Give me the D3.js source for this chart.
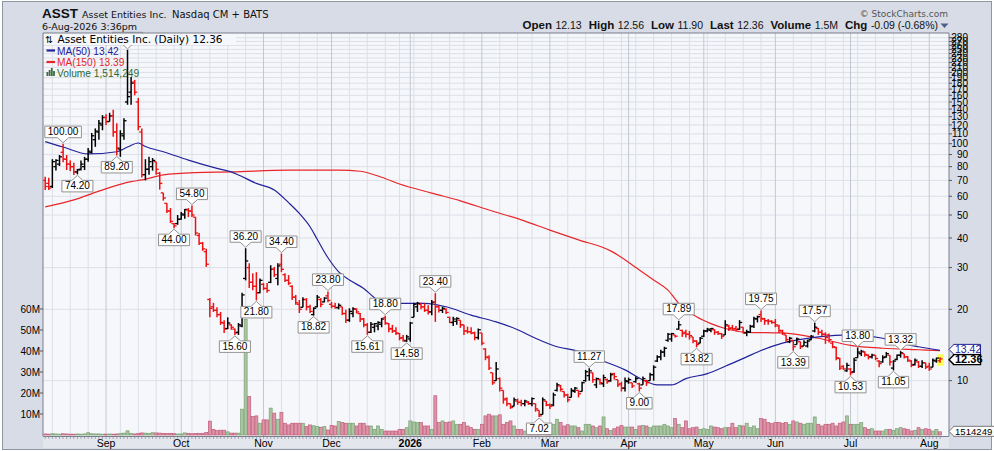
<!DOCTYPE html>
<html><head><meta charset="utf-8">
<script src="https://cdn.jsdelivr.net/npm/d3@7"></script>
<style>body{margin:0;background:#fff;}svg{display:block;}</style>
</head><body>
<svg id="c" width="994" height="451"></svg>
<script>
// ---------- DATA ----------
const startDate = "2025-08-07", endDate = "2026-08-06";
const holidays = ["2025-09-01","2025-11-27","2025-12-25","2026-01-01","2026-01-19","2026-02-16","2026-04-03","2026-05-25","2026-06-19","2026-07-03"];

const open = [
70,68,66,80,82,92,86,82,80,76,
78,80,86,92,104,112,120,129,124,131,
112,95,108,150,165,182,150,112,74,78,
80,84,75,62,56,52,46,46,48,50,
52.5,52,49,41,38,35,22,20.5,19.8,19,
17.5,16.6,17.2,16.5,16,17,27,30,26,25,
23.5,25.5,24.5,26,29.5,27,31,28,26.5,25,
22.5,21,20.4,22,20.5,19,20.5,22,21.5,22.8,
21,20.6,20.3,20.5,19.2,18,19.2,20,19.2,18.2,
17.2,16,16.8,17,17.3,18.4,17.4,16.6,16.2,15.8,
15.2,14.7,15,18.5,20.5,21,20.5,19.8,19.5,21.5,
20.5,19.8,20,18.5,17.6,17.8,18,17.2,16.2,16.1,
15.9,15.2,15.9,13.6,12.5,10.8,10,10.2,9.1,8.4,
8,7.8,8.2,8.1,8,8.1,8,8,7.5,7.2,
8.2,7.9,7.9,9.1,9.5,9,8.7,8.5,9,9.1,
9,10,10.5,10.8,9.6,10.1,9.7,10.1,10,10.7,
10.1,9.7,9.3,9.9,9.8,9.9,9.7,9.6,10,10,
10.6,12.1,12.6,13.2,14.8,15,15.6,16.5,16.3,16,
15.7,15.3,14.7,14.4,15.4,16.2,16.3,16.4,16,15.8,
15.6,17,16.7,16.6,16.5,16.8,15.9,16,17,18.2,
19,18.2,17.9,17.8,17.6,17,16.2,15.6,14.6,14.8,
14.2,14.6,14,14,14.9,16.2,16.6,16,15.7,15.6,
14.4,13.8,12.4,11.5,11,11.2,10.9,12.5,13,13.2,
12.8,12.6,12.8,12.1,12,12.6,12.8,11.3,12.3,12.8,
13,12.6,12.1,11.7,12,11.5,11.9,11.5,11.4,12.1,
12.13];
const high = [
72.6,71.9,86,86,89.6,100,89.6,85,83,78.3,
85,88,96,111,116,126,132,133,135,139,
122,114,128,249,191,186,156,116,86,88,
87,84,76,62,56,53.5,46.3,50,51.5,53,
53.5,54.8,49,42,38.5,36,22.3,21.3,20.4,19.5,
18,18.5,17.3,16.6,17.5,23.5,36.2,31.3,28.4,28.7,
27,25.8,25.8,30.7,30.2,31.3,34.4,28.4,27.9,25.3,
23,21.9,22.5,22.3,20.9,20.4,23,22.3,22.5,23.8,
21.5,21.3,21.2,20.5,19.9,20.2,20.4,20.2,19.3,18.4,
17.5,17.7,17.5,17.8,18.4,18.8,17.5,17.2,16.8,15.9,
15.6,15.6,17.7,21.3,21.5,21.3,21.2,20.8,21.9,23.4,
20.8,20.5,20.2,18.6,18.6,18.5,18,17.2,16.9,16.8,
16.1,16.6,15.9,13.7,12.8,10.8,12,10.3,9.1,8.5,
8,8.5,8.4,8.3,8.3,8.2,8.5,8,7.5,8.5,
8.2,8,8.9,9.8,9.6,9,8.8,9.3,9.4,9.1,
9.9,11.1,11.27,10.8,10.3,10.2,10.6,10.2,10.8,10.8,
10.1,9.9,10.3,10.3,9.8,10.4,9.8,10.4,10.1,10.8,
11.6,12.8,13.5,13.9,15.9,15.9,15.6,17.89,16.4,16.4,
16.2,15.3,14.8,15.3,16.4,16.7,16.7,16.5,16.2,15.9,
18,17.2,17.2,17,18,16.8,16.4,17.2,18.6,18.8,
19.75,18.4,18.2,18,18.2,17.2,16.4,15.6,15.3,14.8,
15.2,14.6,14.8,14.9,15.6,17.57,16.7,16.4,16,15.8,
14.6,13.9,12.5,11.6,11.9,11.3,12.5,13.8,13.5,13.3,
12.9,13,12.8,12.2,12.8,13.2,12.8,12.2,12.9,13.32,
13,12.7,12.2,12.4,12.1,12.2,11.9,11.9,12.4,12.5,
12.56];
const low = [
63.8,63.8,65,77,80.5,83.5,77.4,76.6,73.8,74.2,
77,77.4,84,91,97,104,114,120,124,107,
89.2,88,104,146,146,160,114,72,70,74,
77,74,64,57.5,51,46.3,44,45.5,47.7,48.2,
49,49,41,37.4,35.3,30.2,18.5,19.5,18.5,17.2,
15.9,16.5,16.4,15.6,15.6,16.8,26.5,24.6,24.1,21.8,
23.4,24.1,23.5,25.8,27.4,25.3,28.7,26.1,25.3,21.9,
20.9,19.3,20.4,19.8,19.3,18.82,20.4,20.4,21.4,21.4,
20.2,20.1,20,18.9,17.5,17.7,18.5,19.2,17.7,16.8,
15.61,15.9,16,16.3,16.8,17.2,16,15.9,15.6,14.8,
14.6,14.58,14.6,18.5,19.5,20,19.5,19,18.9,17.7,
19.4,19.3,19.1,17.5,17,17.2,16.7,15.6,15.8,15.7,
14.8,14.9,14.1,12.2,11.1,9.6,10,9,8,7.8,
7.6,7.8,7.9,7.8,7.8,7.9,7.8,7.4,7.02,7.2,
7.8,7.6,7.8,9,9,8.5,8.1,8.5,8.9,8.5,
9,9.9,10,9.8,9.3,9.6,9.4,9.7,9.9,10.1,
9.4,9,9,9.7,9.3,9.8,9,9.6,9.5,10,
10,12,12.2,12.6,14.6,14.6,15.2,16.4,15.3,15.2,
14.9,14.4,13.82,14.4,15.3,16,16,15.6,15.6,15,
15.6,16.2,16.4,16.2,16.4,15.8,15.4,15.9,16.7,17.6,
17.7,17.2,17.2,17.4,16.8,15.9,15.6,14.6,14.4,13.39,
14.2,13.6,14,13.8,14.8,16,15.6,15.4,14.3,14.5,
13.7,12.2,11.1,11.1,10.9,10.53,10.8,12.5,12.7,12.6,
12.3,12.4,12.2,11.4,11.9,12.5,11.6,11.05,12.2,12.5,
12.4,12,11.4,11.6,11.3,11.3,11.2,11,11.4,11.9,
11.90];
const close = [
66,65,84,85,88,86,82,80,76,77.5,
82,86,93,108,113,122,129,124,131,112,
96,110,125,158,180,165,118,74,78,84,
85,78,68,59,52,47,45,48,50.5,52.8,
52,50,42,38,36,31,20.2,19.8,19,17.6,
16.5,17.5,16.8,15.9,17.2,23,32,26,25,23.5,
26.5,24.5,24,29.5,28,30.5,29.5,26.5,25.8,22.5,
21.3,20,22,20.5,19.6,20.2,22.5,21,22.3,21.8,
20.6,20.4,20.8,19.2,18,19.6,20.1,19.5,18.2,17.2,
16,17.3,17.4,17.6,18.2,17.5,16.5,16.2,15.9,15.1,
14.8,15.3,17.5,21,21.2,20.5,19.8,19.5,21.4,20.5,
19.8,20.2,19.4,17.6,18.2,18.3,17.2,16.2,16.1,15.9,
15.2,16.4,14.4,12.6,11.3,9.8,11.2,9.3,8.3,8,
7.7,8.3,8.1,8,8.2,8,8.4,7.6,7.1,8.3,
7.9,7.8,8.7,9.6,9.2,8.7,8.3,9.1,9.3,8.8,
9.8,10.9,11,10.1,10.2,9.8,10.3,9.9,10.6,10.4,
9.6,9.3,10,10.1,9.5,10.2,9.3,10.2,9.8,10.6,
11.4,12.6,13.2,13.7,15.7,15.8,15.4,17.2,15.8,15.7,
15.5,14.7,14.2,15.1,16.2,16.5,16.6,16,15.8,15.4,
17.2,16.6,16.5,16.4,17.6,15.9,16.1,16.9,18.3,18.6,
18.3,17.9,17.8,17.6,17.2,16.3,15.8,14.9,15.1,13.9,
15,13.9,14.5,14.7,15.4,16.8,16,15.7,15.2,14.9,
13.9,12.5,11.3,11.2,11.6,10.8,12.2,13.2,13.3,12.9,
12.6,12.8,12.4,11.8,12.5,13,12,12.1,12.8,13.1,
12.6,12.2,11.6,12.2,11.5,11.9,11.4,11.2,12.2,12.45,
12.36];
// volume in millions of shares
const volume = [
0.5,0.4,0.6,0.5,0.4,0.6,0.5,0.4,0.4,0.5,
0.4,0.5,1.1,0.6,0.5,0.5,0.4,0.4,0.5,0.4,
0.5,0.7,0.9,2.0,0.8,0.5,0.8,1.0,0.9,0.8,
1.1,1.0,0.9,0.8,0.7,0.8,0.7,0.5,0.5,1.0,
0.8,0.6,0.7,0.8,0.8,1.2,6.6,2.6,2.1,2.3,
2.3,1.5,0.9,0.9,0.9,12.3,55,18.3,8.8,9.1,
5.6,7.2,7.2,12.8,10.4,7.5,10.8,5.6,4.8,5.6,
5.6,5.6,5.6,4.0,4.8,4.4,4.0,3.7,4.0,2.4,
4.6,4.3,6.4,5.9,5.6,5.6,5.6,4.3,5.6,5.6,
4.3,4.3,2.7,4.3,2.7,1.9,1.9,1.9,1.9,2.7,
2.7,3.5,6.7,6.2,5.9,5.9,4.3,4.3,2.7,18.7,
5.9,6.7,5.9,6.2,6.7,5.1,5.1,5.9,4.3,3.5,
2.7,2.7,5.1,9.1,9.9,9.1,9.1,9.6,5.1,5.9,
6.7,4.3,2.7,2.7,1.9,1.9,2.2,2.7,2.7,1.9,
2.7,2.7,5.1,7.5,6.0,4.3,4.9,4.3,4.3,3.5,
1.9,5.1,5.1,4.3,3.5,4.3,8.6,3.0,2.2,3.0,
3.8,4.6,3.8,3.8,3.8,2.7,4.3,4.6,4.3,3.5,
4.3,4.3,4.3,5.1,4.3,3.5,7.8,5.1,3.5,6.7,
3.0,3.5,3.8,2.7,3.0,2.7,4.3,3.8,3.5,3.0,
3.5,3.5,5.6,3.5,4.6,4.3,5.6,3.5,4.3,3.0,
7.8,7.5,5.9,5.4,5.9,5.9,5.6,5.9,5.1,6.7,
6.2,5.6,5.1,5.6,5.6,8.6,5.1,4.3,5.1,5.1,
5.6,4.3,5.6,6.2,9.1,5.1,5.1,5.1,5.9,3.5,
2.7,3.0,1.9,1.9,1.9,2.7,2.7,2.2,3.0,3.5,
3.0,2.7,1.9,2.2,3.5,2.7,3.0,2.7,1.9,2.7,
1.514249];

// moving averages (bar index, value)
const ma50Idx = [0,5,12,20,23,26,28,33,40,48,52,54,59,64,68,71,74,76,79,82,85,89,93,98,106,112,119,126,132,137,143,149,154,162,167,171,175,179,185,190,196,200,206,216,225,234,239,244,250];
const ma50Val = [102,96.8,90.5,92.5,96.8,100.7,97.3,92.5,85.3,78.7,76,73.8,68,63.8,56.4,50.8,44.6,39.5,33,28.8,26.6,24.5,21.9,21.2,21.2,20.5,18.9,17.7,16.4,15.1,13.9,13.3,12.4,11.1,10.07,9.6,9.6,10.2,10.7,11.5,12.6,13.4,14.4,15.3,15.6,15.1,14.4,13.9,13.42];
const ma150Idx = [0,8,15,24,27,33,42,52,68,82,88,94,99,108,116,124,133,141,149,158,166,170,174,177,182,186,190,196,206,216,225,234,244,250];
const ma150Val = [54.1,57.9,63.1,69.2,70.3,73.8,75.5,76,77.4,77.4,76.5,72.2,67.6,61.9,57.4,52.5,47.7,43.2,39.3,35.3,29.3,26.6,24.1,21.2,18.6,17.4,16.6,16.0,15.9,15.1,14.1,13.7,13.5,13.39];

const hiLabelIdx = [5,41,56,66,79,95,109,152,177,200,215,227,239];
const loLabelIdx = [9,20,36,53,59,75,90,101,138,166,182,209,225,237];
const peakIdx = 23;

const priceTicks = d3.range(10, 290, 10);
const volTicks = [10,20,30,40,50,60];

// quote header as printed
const quoteChange = -0.09, quoteChangePct = -0.68;

// ---------- SETUP ----------
const svg = d3.select('#c');
const P = {l:43, r:949, t:33, b:436};
const fmt = d3.utcFormat('%Y-%m-%d');
const parse = d3.utcParse('%Y-%m-%d');
const days = d3.utcDay.range(parse(startDate), d3.utcDay.offset(parse(endDate),1))
  .filter(d => { const w=d.getUTCDay(); return w!==0 && w!==6 && !holidays.includes(fmt(d)); });
const n = Math.min(days.length, close.length);

const x = d3.scaleLinear().domain([0, 250]).range([45.2, 940]);
const y = d3.scaleLog().domain([5.84, 293.2]).range([P.b, P.t]);
const yv = d3.scaleLinear().domain([0, 60]).range([435, 309]);

const FRAME = '#d8dce6', PLOTBG = '#f6f7fb';
const SANS = 'Liberation Sans, Arial, sans-serif';
const VERD = 'DejaVu Sans, Verdana, sans-serif';

svg.append('rect').attr('width',994).attr('height',451).attr('fill','#fff');
svg.append('rect').attr('x',2.5).attr('y',1.5).attr('width',989).attr('height',448)
  .attr('fill',FRAME).attr('stroke','#8e95a5');
svg.append('rect').attr('x',P.l).attr('y',P.b).attr('width',P.r-P.l).attr('height',12).attr('fill','#e3e6ed');
svg.append('rect').attr('x',P.l).attr('y',P.t).attr('width',P.r-P.l).attr('height',P.b-P.t).attr('fill',PLOTBG);

svg.append('defs').append('clipPath').attr('id','clip').append('rect')
  .attr('x',P.l).attr('y',P.t).attr('width',P.r-P.l).attr('height',P.b-P.t);

// grid
const grid = svg.append('g');
priceTicks.forEach(t => {
  grid.append('line').attr('x1',P.l).attr('x2',P.r).attr('y1',y(t)).attr('y2',y(t))
    .attr('stroke','#dcdfe7').attr('stroke-width',1);
});
const monthStarts = [], weekStarts = [];
for (let i=1;i<n;i++){
  const d=days[i], p=days[i-1];
  if (d.getUTCMonth()!==p.getUTCMonth()) monthStarts.push(i);
  else if (d.getUTCDay() < p.getUTCDay()) weekStarts.push(i);
}
weekStarts.forEach(i => grid.append('line').attr('x1',x(i)).attr('x2',x(i)).attr('y1',P.t).attr('y2',P.b)
  .attr('stroke','#dcdfe7'));
monthStarts.forEach(i => grid.append('line').attr('x1',x(i)).attr('x2',x(i)).attr('y1',P.t).attr('y2',P.b)
  .attr('stroke','#c3c7d1'));

const up = i => i===0 ? close[0]>=open[0] : close[i]>=close[i-1];
const main = svg.append('g').attr('clip-path','url(#clip)');

// volume
main.selectAll('rect.v').data(d3.range(n)).join('rect')
  .attr('x',i=>x(i)-1.5).attr('width',3)
  .attr('y',i=>yv(volume[i])).attr('height',i=>435-yv(volume[i]))
  .attr('fill',i=>up(i)?'#a9c5a1':'#dd94a8')
  .attr('stroke',i=>up(i)?'#7ba274':'#c25c7a').attr('stroke-width',0.7);

// moving averages
const line = d3.line().curve(d3.curveMonotoneX);
main.append('path').attr('d',line(ma150Idx.map((i,k)=>[x(i),y(ma150Val[k])])))
  .attr('fill','none').attr('stroke','#e8262a').attr('stroke-width',1.2);
main.append('path').attr('d',line(ma50Idx.map((i,k)=>[x(i),y(ma50Val[k])])))
  .attr('fill','none').attr('stroke','#22229a').attr('stroke-width',1.2);

// last bar highlight
main.append('rect').attr('x',x(n-1)-3).attr('y',y(high[n-1])-3).attr('width',7)
  .attr('height',y(low[n-1])-y(high[n-1])+6).attr('fill','#ffff55');

// price bars
const bars = main.append('g');
for (let i=0;i<n;i++){
  const c = up(i)?'#000':'#ee1111', cx=x(i);
  bars.append('line').attr('x1',cx).attr('x2',cx).attr('y1',y(high[i])).attr('y2',y(low[i]))
    .attr('stroke',c).attr('stroke-width',1.5);
  bars.append('line').attr('x1',cx-2.6).attr('x2',cx).attr('y1',y(open[i])).attr('y2',y(open[i]))
    .attr('stroke',c).attr('stroke-width',1.3);
  bars.append('line').attr('x1',cx).attr('x2',cx+2.6).attr('y1',y(close[i])).attr('y2',y(close[i]))
    .attr('stroke',c).attr('stroke-width',1.3);
}

// high / low labels
const lab = svg.append('g');
function tag(i, isHigh, showText){
  const cx=x(i), val=isHigh?high[i]:low[i];
  const tip = isHigh ? y(val)-1 : y(val)+1;
  const g = lab.append('g');
  let w = 30;
  const t = g.append('text').attr('font-family',SANS).attr('font-size',10)
    .attr('text-anchor','middle').attr('fill','#000');
  if (showText){ t.text(val.toFixed(2)); w = t.node().getComputedTextLength()+6; }
  const bh=11.5, ph=5, pw=5.5;
  let d;
  if (isHigh){ const bb=tip-ph, bt=bb-bh; t.attr('x',cx).attr('y',bb-2.6);
    d=`M${cx-w/2},${bt}H${cx+w/2}V${bb}H${cx+pw}L${cx},${tip}L${cx-pw},${bb}H${cx-w/2}Z`; }
  else { const bt=tip+ph, bb=bt+bh; t.attr('x',cx).attr('y',bb-2.6);
    d=`M${cx-w/2},${bt}H${cx-pw}L${cx},${tip}L${cx+pw},${bt}H${cx+w/2}V${bb}H${cx-w/2}Z`; }
  g.insert('path','text').attr('d',d).attr('fill','#fff').attr('stroke','#929292').attr('stroke-width',1);
  if(!showText) t.remove();
}
tag(peakIdx, true, false);
hiLabelIdx.forEach(i=>tag(i,true,true));
loLabelIdx.forEach(i=>tag(i,false,true));

// legend
const lg = svg.append('g');
lg.append('rect').attr('x',44).attr('y',33.5).attr('width',192).attr('height',11.5).attr('fill',PLOTBG);
lg.append('text').attr('x',45).attr('y',43).attr('font-family',VERD).attr('font-size',9.5).text('⇅');
lg.append('text').attr('x',57.5).attr('y',43).attr('font-family',VERD).attr('font-size',10.5).attr('fill','#000')
  .text('Asset Entities Inc. (Daily) ' + close[n-1].toFixed(2));
lg.append('line').attr('x1',46.5).attr('x2',55).attr('y1',50.5).attr('y2',50.5).attr('stroke','#22229a').attr('stroke-width',2.2);
lg.append('text').attr('x',57).attr('y',54.5).attr('font-family',SANS).attr('font-size',10.2).attr('fill','#22229a')
  .text('MA(50) ' + ma50Val[ma50Val.length-1].toFixed(2));
lg.append('line').attr('x1',46.5).attr('x2',55).attr('y1',62).attr('y2',62).attr('stroke','#e8262a').attr('stroke-width',2.2);
lg.append('text').attr('x',57).attr('y',66).attr('font-family',SANS).attr('font-size',10.2).attr('fill','#e8262a')
  .text('MA(150) ' + ma150Val[ma150Val.length-1].toFixed(2));
[[46.5,4],[48.7,6],[50.9,8],[53.1,5]].forEach(([bx,bh])=>lg.append('rect').attr('x',bx).attr('y',76-bh)
  .attr('width',1.8).attr('height',bh).attr('fill','#3d6e3d'));
lg.append('text').attr('x',57).attr('y',76.5).attr('font-family',SANS).attr('font-size',10.2).attr('fill','#2f6a2f')
  .text('Volume ' + d3.format(',')(Math.round(volume[n-1]*1e6)));

// plot border
svg.append('line').attr('x1',P.l).attr('x2',P.l).attr('y1',P.t).attr('y2',P.b).attr('stroke','#7a7f8c');
svg.append('line').attr('x1',P.r).attr('x2',P.r).attr('y1',P.t).attr('y2',P.b).attr('stroke','#7a7f8c');
svg.append('line').attr('x1',P.l).attr('x2',P.r).attr('y1',P.t).attr('y2',P.t).attr('stroke','#7a7f8c');
svg.append('line').attr('x1',P.l).attr('x2',P.r).attr('y1',P.b+0.5).attr('y2',P.b+0.5).attr('stroke','#7a7f8c');

// right axis
const ra = svg.append('g');
priceTicks.forEach(t=>{
  ra.append('line').attr('x1',P.r).attr('x2',P.r+3).attr('y1',y(t)).attr('y2',y(t)).attr('stroke','#555');
  ra.append('text').attr('x',968).attr('y',y(t)+3.6).attr('text-anchor','end')
    .attr('font-family',SANS).attr('font-size',10).attr('fill','#000').text(t);
});
// left volume axis
volTicks.forEach(v=>{
  svg.append('line').attr('x1',P.l-3).attr('x2',P.l).attr('y1',yv(v)).attr('y2',yv(v)).attr('stroke','#555');
  svg.append('text').attr('x',P.l-3).attr('y',yv(v)+3.6).attr('text-anchor','end')
    .attr('font-family',SANS).attr('font-size',10).attr('fill','#000').text(v+'M');
});
// bottom axis
for (let i=0;i<n;i++) svg.append('line').attr('x1',x(i)).attr('x2',x(i)).attr('y1',P.b+1).attr('y2',P.b+3).attr('stroke','#9096a3').attr('stroke-width',0.8);
monthStarts.forEach(i=>{
  const d=days[i], isJan=d.getUTCMonth()===0;
  svg.append('text').attr('x',x(i)).attr('y',447).attr('text-anchor','middle')
    .attr('font-family',SANS).attr('font-size',10.5).attr('font-weight',isJan?'bold':'normal')
    .attr('fill','#000').text(isJan?d3.utcFormat('%Y')(d):d3.utcFormat('%b')(d));
});

// value tags on right axis
function rtag(cy, txt, stroke, color, bold, wbox, fs){
  const g=svg.append('g');
  g.append('path').attr('d',`M${P.r},${cy}L${P.r+4.5},${cy-4.5}V${cy-5}H${P.r+4.5+wbox}V${cy+5}H${P.r+4.5}V${cy+4.5}Z`)
    .attr('fill','#fff').attr('stroke',stroke).attr('stroke-width',bold?1.4:1);
  g.append('text').attr('x',P.r+6).attr('y',cy+3.8).attr('font-family',SANS).attr('font-size',fs)
    .attr('font-weight',bold?'bold':'normal').attr('fill',color).text(txt);
}
rtag(y(ma50Val[ma50Val.length-1])-1, ma50Val[ma50Val.length-1].toFixed(2), '#22229a', '#22229a', false, 27, 10.5);
rtag(y(close[n-1])+0.8, close[n-1].toFixed(2), '#000', '#000', true, 27, 11);
rtag(yv(volume[n-1])-0.5, String(Math.round(volume[n-1]*1e6)), '#777', '#000', false, 42, 9.6);

// header
svg.append('text').attr('x',42).attr('y',18).attr('font-family',SANS).attr('font-size',13.5)
  .attr('font-weight','bold').attr('fill','#111').text('ASST');
svg.append('text').attr('x',82).attr('y',17.5).attr('font-family',VERD).attr('font-size',9.5)
  .attr('fill','#111').text('Asset Entities Inc.');
svg.append('text').attr('x',172).attr('y',17.5).attr('font-family',VERD).attr('font-size',10)
  .attr('fill','#111').text('Nasdaq CM + BATS');
svg.append('text').attr('x',42).attr('y',29.5).attr('font-family',VERD).attr('font-size',9.5)
  .attr('fill','#111').text('6-Aug-2026 3:36pm');
svg.append('text').attr('x',948).attr('y',16.5).attr('text-anchor','end').attr('font-family',VERD)
  .attr('font-size',9).attr('fill','#555').text('© StockCharts.com');

const info = [['Open',open[n-1].toFixed(2)],['High',high[n-1].toFixed(2)],['Low',low[n-1].toFixed(2)],
  ['Last',close[n-1].toFixed(2)],['Volume',(volume[n-1]).toFixed(1)+'M'],
  ['Chg',quoteChange.toFixed(2)+' ('+quoteChangePct.toFixed(2)+'%)']];
const it = svg.append('text').attr('x',938).attr('y',29).attr('text-anchor','end').attr('fill','#111');
info.forEach(([k,v],j)=>{
  it.append('tspan').attr('dx',j?7:0).attr('font-family',SANS).attr('font-weight','bold').attr('font-size',11.5).text(k);
  it.append('tspan').attr('dx',3.5).attr('font-family',SANS).attr('font-size',10.5).text(v);
});
svg.append('path').attr('d','M940.5,23.5L948.5,23.5L944.5,28Z').attr('fill','#4d5d8d');
</script>
</body></html>
